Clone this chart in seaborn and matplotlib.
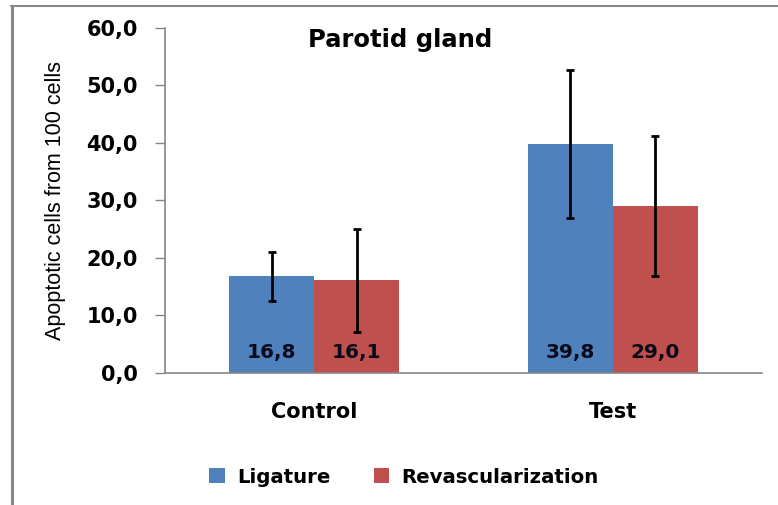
import pandas as pd
import seaborn as sns
import matplotlib.pyplot as plt
from matplotlib.ticker import FuncFormatter, FixedLocator
from matplotlib.lines import Line2D

groups = ["Control", "Test"]
treatments = ["Ligature", "Revascularization"]
ligature = [16.8, 39.8]
revasc = [16.1, 29.0]
ligature_err = [4.3, 12.9]
revasc_err = [9.0, 12.2]

df = pd.DataFrame({
    "group": groups * 2,
    "treatment": [treatments[0]] * 2 + [treatments[1]] * 2,
    "value": ligature + revasc,
})

sns.set_style("white")
plt.rcParams['font.family'] = ['DejaVu Sans']
plt.rcParams['text.color'] = 'black'
plt.rcParams['xtick.labelcolor'] = 'black'
plt.rcParams['ytick.labelcolor'] = 'black'
plt.rcParams['axes.labelcolor'] = 'black'

fig = plt.figure(figsize=(7.78, 5.05), dpi=100)
ax = fig.add_axes([0.2121, 0.2614, 0.7673, 0.6832])

sns.barplot(data=df, x="group", y="value", hue="treatment",
            palette=["#4F81BD", "#C0504D"], saturation=1, width=0.57,
            errorbar=None, linewidth=0, ax=ax)

# error bars and value labels on top of the seaborn bars
for cont, errs, vals in zip(ax.containers, [ligature_err, revasc_err], [ligature, revasc]):
    for bar, e, v in zip(cont, errs, vals):
        cx = bar.get_x() + bar.get_width() / 2
        ax.errorbar(cx, bar.get_height(), yerr=e, color="black", lw=2,
                    capsize=3, capthick=2)
        ax.text(cx, 3.6, f"{v:.1f}".replace(".", ","), ha="center", va="center",
                fontsize=14.5, fontweight="bold", color="#0a0a1a")

ax.set_ylim(0, 60)
ax.set_xlim(-0.5, 1.5)
ax.yaxis.set_major_locator(FixedLocator([0, 10, 20, 30, 40, 50, 60]))
ax.yaxis.set_major_formatter(FuncFormatter(lambda v, p: f"{v:.1f}".replace(".", ",")))
ax.set_xticks([-0.5, 0.5], minor=True)
ax.tick_params(axis="x", which="major", length=0, pad=21, labelsize=15)
ax.tick_params(axis="x", which="minor", length=6, width=1.2, color="#868686", direction="out")
ax.tick_params(axis="y", length=7, width=1, color="#868686", direction="out", pad=12.5, labelsize=15, left=True)
for lab in ax.get_xticklabels() + ax.get_yticklabels():
    lab.set_fontweight("bold")

for s in ["top", "right"]:
    ax.spines[s].set_visible(False)
for s in ["left", "bottom"]:
    ax.spines[s].set_color("#868686")
    ax.spines[s].set_linewidth(1.2)

ax.set_xlabel("")
ax.set_ylabel("Apoptotic cells from 100 cells", fontsize=15.5, family="Liberation Sans", labelpad=15)

ax.text(0.394, 0.965, "Parotid gland", transform=ax.transAxes, ha="center", va="center",
        fontsize=17.5, fontweight="bold")

handles, labels = ax.get_legend_handles_labels()
ax.get_legend().remove()
fig.legend(handles, labels, loc="center", bbox_to_anchor=(0.519, 0.055), ncol=2,
           frameon=False, prop={"weight": "bold", "size": 14.2},
           handlelength=0.8, handleheight=0.8, columnspacing=2.2, handletextpad=0.6)

# outer chart frame (left and top edges visible in the original)
fig.add_artist(Line2D([0.0154, 0.0154], [0, 0.988], color="#868686", lw=2.2, transform=fig.transFigure))
fig.add_artist(Line2D([0.0141, 1.0], [0.988, 0.988], color="#868686", lw=1.5, transform=fig.transFigure))

plt.savefig("out.png", dpi=100, facecolor="w")
